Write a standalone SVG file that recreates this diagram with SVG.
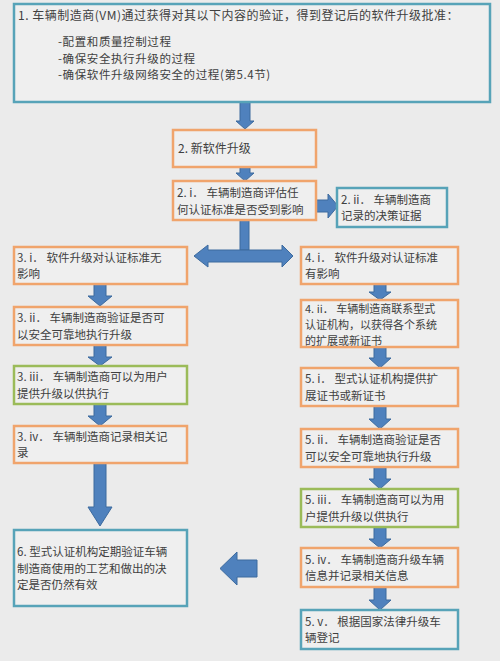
<svg xmlns="http://www.w3.org/2000/svg" width="500" height="661" viewBox="0 0 500 661">
<style>
.box{fill:#efefef;stroke-width:2.5}
.o{stroke:#f0a46c}
.t{stroke:#57a3b8}
.g{stroke:#9bbb59}
text{font-family:"Noto Sans CJK SC","Noto Sans",sans-serif;font-size:11.5px;fill:#404040}
.sm{font-size:11px}
.arr{fill:#4f81bd;stroke:#3c6a9e;stroke-width:1}
</style>
<rect width="500" height="661" fill="#ebebeb"/>
<g id="connectors">
<polygon class="arr" points="240,102 250,102 250,121 254,121 245,129 236,121 240,121"/>
<polygon class="arr" points="240,167 250,167 250,173 254,173 245,181 236,173 240,173"/>
<polygon class="arr" points="316,200 328,200 328,194 338,206 328,218 328,212 316,212"/>
<polygon class="arr" points="240,220 249,220 249,250 240,250"/>
<polygon class="arr" points="194,256 208,245 208,250 282,250 282,245 293,256 282,267 282,262 208,262 208,267"/>
<polygon class="arr" points="94,284 106,284 106,296 112,296 100,306 88,296 94,296"/>
<polygon class="arr" points="94,345 106,345 106,357 112,357 100,366 88,357 94,357"/>
<polygon class="arr" points="94,404 106,404 106,416 112,416 100,426 88,416 94,416"/>
<polygon class="arr" points="94,463 106,463 106,507 112,507 100,526 88,507 94,507"/>
<polygon class="arr" points="374,284 386,284 386,292 391,292 380,300 369,292 374,292"/>
<polygon class="arr" points="374,347 386,347 386,358 391,358 380,368 369,358 374,358"/>
<polygon class="arr" points="374,406 386,406 386,419 391,419 380,429 369,419 374,419"/>
<polygon class="arr" points="374,467 386,467 386,479 391,479 380,489 369,479 374,479"/>
<polygon class="arr" points="374,527 386,527 386,539 391,539 380,548 369,539 374,539"/>
<polygon class="arr" points="374,587 386,587 386,600 391,600 380,610 369,600 374,600"/>
<polygon class="arr" points="257,560 257,577 237,577 237,585 220,568.5 237,552 237,560"/>
</g>
<g id="n1">
<rect class="box t" x="14" y="4" width="476" height="98"/>
<text x="18" y="20" style="font-size:12px;letter-spacing:0.5px">1.  车辆制造商(VM)通过获得对其以下内容的验证，得到登记后的软件升级批准：</text>
<text x="58" y="46" style="letter-spacing:0.6px">-配置和质量控制过程</text>
<text x="58" y="62.7" style="letter-spacing:0.6px">-确保安全执行升级的过程</text>
<text x="58" y="79.4" style="letter-spacing:0.6px">-确保软件升级网络安全的过程(第5.4节)</text>
</g>
<g id="n2">
<rect class="box o" x="173" y="130" width="143" height="37"/>
<text x="178" y="153" style="font-size:12px">2.  新软件升级</text>
</g>
<g id="n2i">
<rect class="box o" x="173" y="181" width="143" height="39"/>
<text x="177" y="197">2. i． 车辆制造商评估任</text>
<text x="177" y="213.6">何认证标准是否受到影响</text>
</g>
<g id="n2ii">
<rect class="box t" x="337" y="188" width="110" height="39"/>
<text x="341" y="203.5">2. ii． 车辆制造商</text>
<text x="341" y="220.1">记录的决策证据</text>
</g>
<g id="n3i">
<rect class="box o" x="14" y="247" width="173" height="37"/>
<text x="17" y="261.5">3. i． 软件升级对认证标准无</text>
<text x="17" y="278.1">影响</text>
</g>
<g id="n3ii">
<rect class="box o" x="14" y="307" width="173" height="38"/>
<text x="17" y="322">3. ii． 车辆制造商验证是否可</text>
<text x="17" y="338.6">以安全可靠地执行升级</text>
</g>
<g id="n3iii">
<rect class="box g" x="14" y="366" width="173" height="38"/>
<text x="17" y="381">3. iii． 车辆制造商可以为用户</text>
<text x="17" y="397.6">提供升级以供执行</text>
</g>
<g id="n3iv">
<rect class="box o" x="14" y="426" width="173" height="37"/>
<text x="17" y="440.5">3. iv． 车辆制造商记录相关记</text>
<text x="17" y="457.1">录</text>
</g>
<g id="n6">
<rect class="box t" x="14" y="530" width="173" height="76"/>
<text x="17" y="556">6.  型式认证机构定期验证车辆</text>
<text x="17" y="572.6">制造商使用的工艺和做出的决</text>
<text x="17" y="589.2">定是否仍然有效</text>
</g>
<g id="n4i">
<rect class="box o" x="301" y="247" width="157" height="37"/>
<text x="305" y="261.5">4. i． 软件升级对认证标准</text>
<text x="305" y="278.1">有影响</text>
</g>
<g id="n4ii">
<rect class="box o" x="301" y="300" width="157" height="47"/>
<text class="sm" x="305" y="312.8">4. ii． 车辆制造商联系型式</text>
<text class="sm" x="305" y="328.8">认证机构，以获得各个系统</text>
<text class="sm" x="305" y="344.8">的扩展或新证书</text>
</g>
<g id="n5i">
<rect class="box o" x="301" y="368" width="157" height="38"/>
<text x="305" y="383">5. i． 型式认证机构提供扩</text>
<text x="305" y="399.6">展证书或新证书</text>
</g>
<g id="n5ii">
<rect class="box o" x="301" y="429" width="157" height="38"/>
<text x="305" y="444">5. ii． 车辆制造商验证是否</text>
<text x="305" y="460.6">可以安全可靠地执行升级</text>
</g>
<g id="n5iii">
<rect class="box g" x="301" y="489" width="157" height="38"/>
<text x="305" y="504">5. iii． 车辆制造商可以为用</text>
<text x="305" y="520.6">户提供升级以供执行</text>
</g>
<g id="n5iv">
<rect class="box o" x="301" y="548" width="157" height="39"/>
<text x="305" y="563.5">5. iv． 车辆制造商升级车辆</text>
<text x="305" y="580.1">信息并记录相关信息</text>
</g>
<g id="n5v">
<rect class="box t" x="301" y="610" width="157" height="39"/>
<text x="305" y="625.5">5. v． 根据国家法律升级车</text>
<text x="305" y="642.1">辆登记</text>
</g>
</svg>
